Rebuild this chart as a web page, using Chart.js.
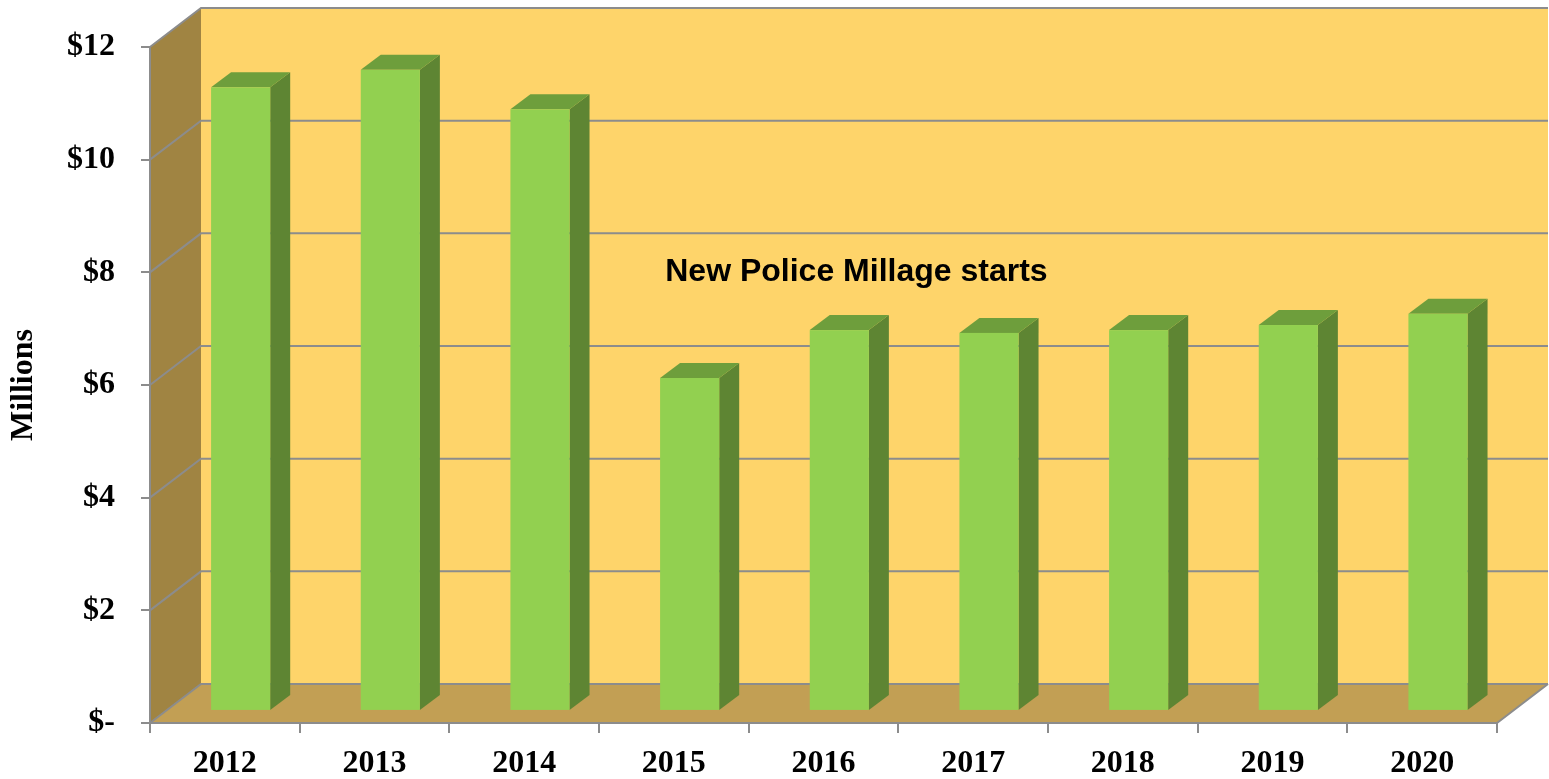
<!DOCTYPE html>
<html>
<head>
<meta charset="utf-8">
<script src="https://cdn.jsdelivr.net/npm/chart.js@4/dist/chart.umd.min.js"></script>
<style>
  html, body { margin: 0; padding: 0; background: #fff; }
  #wrap { width: 1549px; height: 779px; }
</style>
</head>
<body>
<div id="wrap"><canvas id="millage" width="1549" height="779"></canvas></div>
<script>
const years = ['2012', '2013', '2014', '2015', '2016', '2017', '2018', '2019', '2020']
const revenue = [11.07, 11.38, 10.68, 5.91, 6.76, 6.71, 6.76, 6.85, 7.05]
const yTicks = [0, 2, 4, 6, 8, 10, 12]
const noteText = 'New Police Millage starts'
const noteAt = [4.72, 8.0] // position along the category axis, value

// depth of the box (back wall offset) and where the bars stand in it
const depth = { dx: 51, dy: -39 }
const barPlane = 0.31
const barDepth = { dx: 20, dy: -15 }

const grey = '#8c8c8c'

const box3d = {
  id: 'box3d',
  beforeDraw(chart) {
    const ctx = chart.ctx
    const x = chart.scales.x, y = chart.scales.y
    const L = x.left, R = x.right
    const T = y.getPixelForValue(12), B = y.getPixelForValue(0)
    const dx = depth.dx, dy = depth.dy
    ctx.save()
    // back wall
    ctx.fillStyle = '#fed46a'
    ctx.fillRect(L + dx, T + dy, R - L, B - T)
    // side wall
    ctx.fillStyle = '#a08442'
    ctx.beginPath()
    ctx.moveTo(L, T); ctx.lineTo(L + dx, T + dy); ctx.lineTo(L + dx, B + dy); ctx.lineTo(L, B)
    ctx.closePath(); ctx.fill()
    // floor
    ctx.fillStyle = '#c29f54'
    ctx.beginPath()
    ctx.moveTo(L, B); ctx.lineTo(L + dx, B + dy); ctx.lineTo(R + dx, B + dy); ctx.lineTo(R, B)
    ctx.closePath(); ctx.fill()
    // gridlines on side and back wall
    ctx.strokeStyle = grey
    ctx.lineWidth = 2
    yTicks.forEach(v => {
      const py = y.getPixelForValue(v)
      ctx.beginPath()
      ctx.moveTo(L, py); ctx.lineTo(L + dx, py + dy); ctx.lineTo(R + dx, py + dy)
      ctx.stroke()
    })
    // top edge and floor right edge
    ctx.beginPath()
    ctx.moveTo(L + dx, T + dy); ctx.lineTo(R + dx, T + dy)
    ctx.moveTo(R, B); ctx.lineTo(R + dx, B + dy)
    ctx.stroke()
    ctx.restore()
  },
  afterDatasetsDraw(chart) {
    const ctx = chart.ctx
    const ox = depth.dx * barPlane, oy = depth.dy * barPlane
    const bdx = barDepth.dx, bdy = barDepth.dy
    ctx.save()
    chart.getDatasetMeta(0).data.forEach(bar => {
      const w = bar.width
      const x0 = bar.x - w / 2 + ox, x1 = bar.x + w / 2 + ox
      const top = bar.y + oy, bot = bar.base + oy
      // side
      ctx.fillStyle = '#5e8533'
      ctx.beginPath()
      ctx.moveTo(x1, top); ctx.lineTo(x1 + bdx, top + bdy); ctx.lineTo(x1 + bdx, bot + bdy); ctx.lineTo(x1, bot)
      ctx.closePath(); ctx.fill()
      // top
      ctx.fillStyle = '#6e9e3c'
      ctx.beginPath()
      ctx.moveTo(x0, top); ctx.lineTo(x0 + bdx, top + bdy); ctx.lineTo(x1 + bdx, top + bdy); ctx.lineTo(x1, top)
      ctx.closePath(); ctx.fill()
      // front
      ctx.fillStyle = '#92d050'
      ctx.fillRect(x0, top, w, bot - top)
    })
    // annotation
    const sx = chart.scales.x, sy = chart.scales.y
    const tx = sx.left + noteAt[0] * (sx.width / years.length)
    ctx.fillStyle = '#000'
    ctx.font = 'bold 32px "Liberation Sans", Arial, sans-serif'
    ctx.textAlign = 'center'
    ctx.textBaseline = 'middle'
    ctx.fillText(noteText, tx, sy.getPixelForValue(noteAt[1]))
    ctx.restore()
  }
}

const ctx = document.getElementById('millage').getContext('2d')
new Chart(ctx, {
  type: 'bar',
  data: {
    labels: years,
    datasets: [{
      label: 'Revenue',
      data: revenue,
      backgroundColor: 'rgba(0,0,0,0)',
      barPercentage: 0.79,
      categoryPercentage: 0.5
    }]
  },
  options: {
    responsive: false,
    animation: false,
    devicePixelRatio: 1,
    layout: { padding: { top: 47, right: 52, left: 0, bottom: 0 } },
    plugins: {
      legend: { display: false },
      tooltip: { enabled: false }
    },
    scales: {
      x: {
        afterFit: s => { s.height = 56 },
        grid: { drawOnChartArea: false, offset: true, tickLength: 10, color: grey, lineWidth: 2 },
        border: { color: grey, width: 2 },
        ticks: {
          color: '#000',
          padding: 12,
          font: { family: '"Liberation Serif", "Times New Roman", serif', size: 32, weight: 'bold' }
        }
      },
      y: {
        min: 0,
        max: 12,
        afterFit: s => { s.width = 150 },
        afterBuildTicks: s => { s.ticks = yTicks.map(v => ({ value: v })) },
        grid: { drawOnChartArea: false, tickLength: 9, color: grey, lineWidth: 2 },
        border: { color: grey, width: 2 },
        ticks: {
          color: '#000',
          padding: 26,
          font: { family: '"Liberation Serif", "Times New Roman", serif', size: 32, weight: 'bold' },
          callback: v => v === 0 ? '$-' : '$' + v
        },
        title: {
          display: true,
          text: 'Millions',
          color: '#000',
          padding: { top: 5, bottom: 0 },
          font: { family: '"Liberation Serif", "Times New Roman", serif', size: 32, weight: 'bold' }
        }
      }
    }
  },
  plugins: [box3d]
})
</script>
</body>
</html>
